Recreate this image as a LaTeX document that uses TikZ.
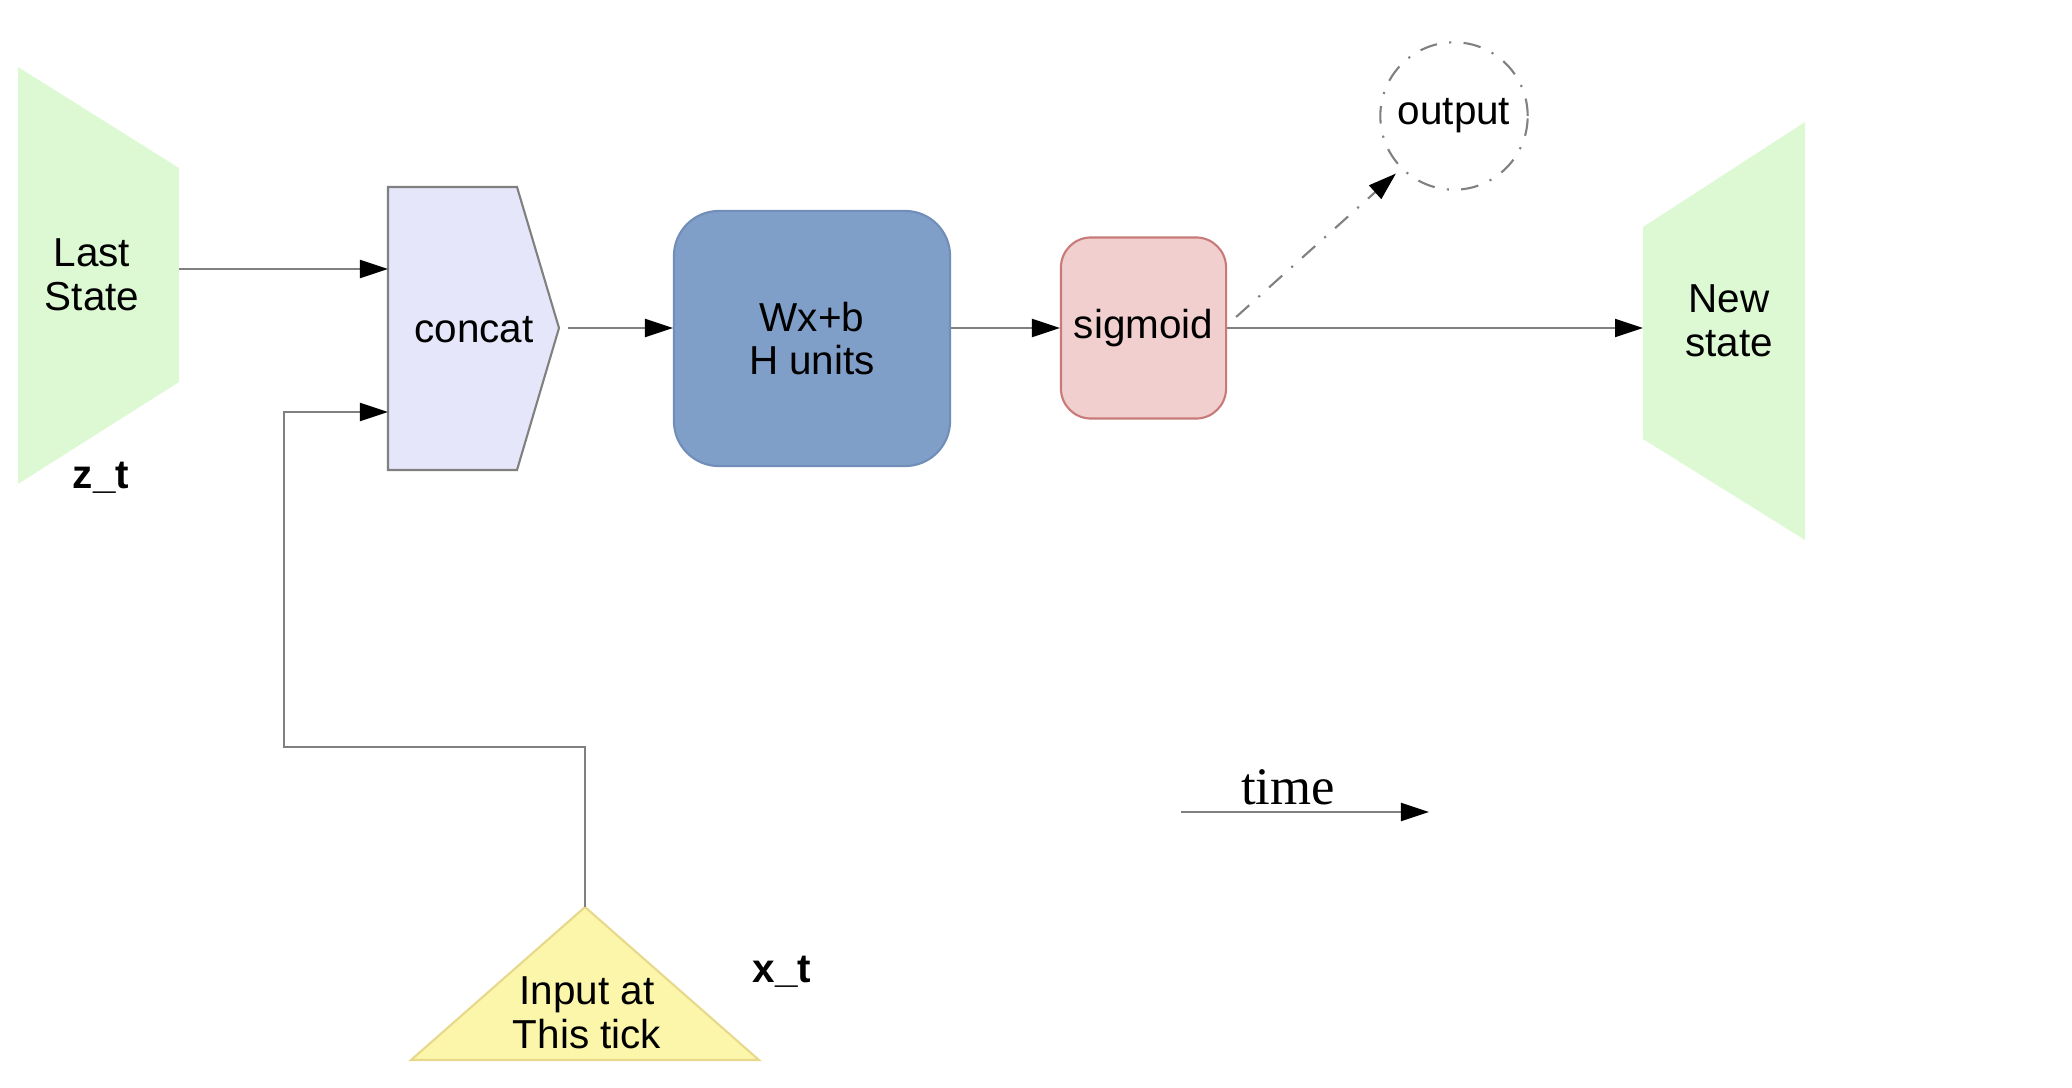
\documentclass[tikz,border=0pt]{standalone}
\usepackage{fontspec}
\setmainfont{Liberation Sans}
\newfontfamily\timefont{Liberation Serif}
\usetikzlibrary{arrows.meta}

\definecolor{stategreen}{RGB}{221,249,211}
\definecolor{concatfill}{RGB}{230,230,250}
\definecolor{wxblue}{RGB}{127,159,200}
\definecolor{wxedge}{RGB}{112,142,184}
\definecolor{sigpink}{RGB}{242,207,207}
\definecolor{sigedge}{RGB}{200,122,122}
\definecolor{inputyellow}{RGB}{251,246,169}
\definecolor{inputedge}{RGB}{232,216,140}
\definecolor{linegray}{RGB}{128,128,128}

\begin{document}
\begin{tikzpicture}[x=0.01cm, y=-0.01cm,
    txt/.style={align=center, font=\fontsize{11.5}{12.4}\selectfont},
    txtbold/.style={align=center, font=\fontsize{11.5}{12.4}\selectfont\bfseries},
    conn/.style={draw=linegray, line width=0.6pt, -{Triangle[length=2.8mm, width=1.8mm, color=black]}},
    dashdot/.style={dash pattern=on 5pt off 3.5pt on 0.6pt off 3.5pt}]
    \useasboundingbox (0,0) rectangle (2072,1088);

    \fill[stategreen] (18,67) -- (179,168) -- (179,382) -- (18,484) -- cycle;
    \fill[stategreen] (1643,227) -- (1805,122) -- (1805,540) -- (1643,439) -- cycle;
    \draw[fill=concatfill, draw=linegray, line width=0.6pt] (388,187) -- (517,187) -- (559,328) -- (517,470) -- (388,470) -- cycle;
    \draw[fill=inputyellow, draw=inputedge, line width=0.6pt] (585,907) -- (759,1060) -- (411,1060) -- cycle;

    \coordinate (last-out) at (179,269);
    \coordinate (concat-in1) at (388,269);
    \coordinate (concat-in2) at (388,412);
    \coordinate (concat-out) at (559,328);
    \coordinate (new-in) at (1643,328);
    \coordinate (input-top) at (585,907);
    \coordinate (bend) at (284,747);
    \coordinate (t0) at (1181,812);
    \coordinate (t1) at (1429,812);

    \node[txt] (last) at (92,275) {Last\\State};
    \node[txtbold] (zt) at (101,478) {z\_t};
    \node[txt] (concat) at (474,330) {concat};
    \node[txt, rounded corners=0.45cm, fill=wxblue, draw=wxedge, line width=0.6pt, minimum width=2.76cm, minimum height=2.55cm] (wx) at (812,338.5) {Wx+b\\H units};
    \node[txt, rounded corners=0.3cm, fill=sigpink, draw=sigedge, line width=0.6pt, minimum width=1.65cm, minimum height=1.81cm] (sig) at (1143.5,328) {sigmoid};
    \node[txt, circle, draw=gray, line width=0.6pt, dashdot, minimum size=1.46cm] (out) at (1454,116) {output};
    \node[txt] (new) at (1729,321) {New\\state};
    \node[txt] (input) at (587,1013) {Input at\\This tick};
    \node[txtbold] (xt) at (782,972) {x\_t};
    \node[font=\timefont\fontsize{15}{18}\selectfont] (time) at (1288,787) {time};

    \draw[conn] (last-out) -- (concat-in1);
    \draw[conn] (input-top) |- (bend) |- (concat-in2);
    \draw[conn, shorten <=0.09cm] (concat-out) -- (wx.west |- concat-out);
    \draw[conn] (wx.east |- new-in) -- (sig.west |- new-in);
    \draw[conn] (sig.east |- new-in) -- (new-in);
    \draw[conn, dashdot, shorten >=0.07cm] ([xshift=0.09cm, yshift=0.11cm]sig.east) -- (out.225);
    \draw[conn] (t0) -- (t1);
\end{tikzpicture}
\end{document}
